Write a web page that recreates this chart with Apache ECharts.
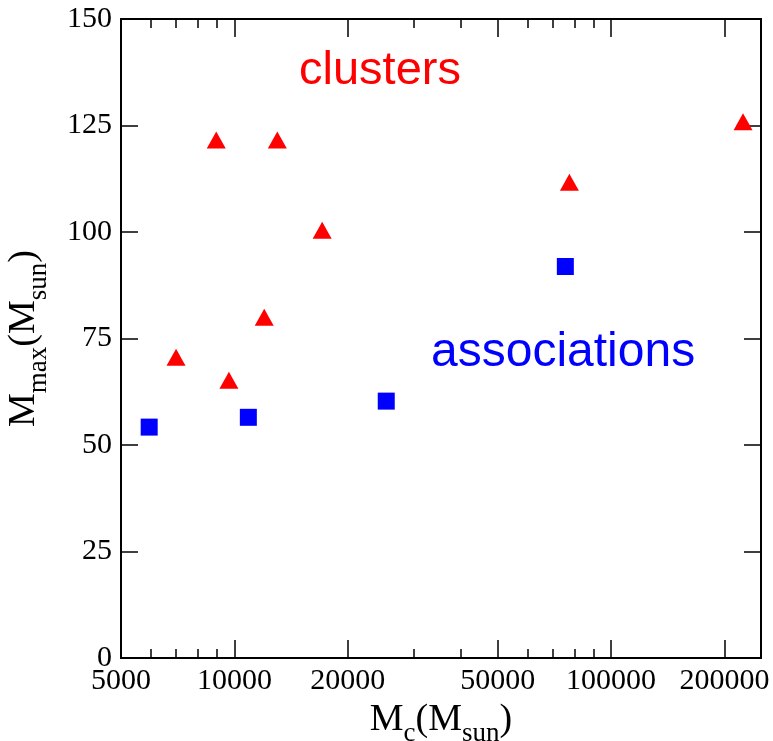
<!DOCTYPE html>
<html>
<head>
<meta charset="utf-8">
<script src="https://cdn.jsdelivr.net/npm/echarts@6/dist/echarts.min.js"></script>
<style>
  html, body { margin: 0; padding: 0; background: #fff; }
  #chart { width: 773px; height: 741px; }
</style>
</head>
<body>
<div id="chart"></div>
<script>
// Cluster mass M_c (M_sun) and most massive star M_max (M_sun)
const clusterMass = [7000, 8950, 9670, 12000, 13000, 17100, 77500, 224000];
const clusterMmax = [70.6, 121.6, 65.2, 80.0, 121.6, 100.4, 111.7, 125.9];
const assocMass = [5940, 10890, 25300, 75600];
const assocMmax = [54.2, 56.5, 60.3, 91.9];

// Axis ticks
const xMajorTicks = [5000, 10000, 20000, 50000, 100000, 200000];
const xMinorTicks = [6000, 7000, 8000, 9000, 30000, 40000, 60000, 70000, 80000, 90000];
const xRange = [5000, 250000];
const yTicks = [0, 25, 50, 75, 100, 125, 150];

// The mass axis is logarithmic: positions are log10 of the mass
const lg = v => Math.log10(v);

const serif = '"Liberation Serif", "Times New Roman", serif';
const sans = '"Liberation Sans", Arial, sans-serif';

function massLabel(v) {
  let best = xMajorTicks[0];
  for (const t of xMajorTicks) if (Math.abs(lg(t) - v) < Math.abs(lg(best) - v)) best = t;
  return String(best);
}

function xAxisDef(position, ticks, len, withLabels) {
  return {
    type: 'value',
    position: position,
    min: lg(xRange[0]),
    max: lg(xRange[1]),
    axisLine: { show: true, onZero: false, lineStyle: { color: '#000', width: 2 } },
    axisTick: {
      show: true, inside: true, length: len,
      customValues: ticks.map(lg),
      lineStyle: { color: '#000', width: 1.5 }
    },
    axisLabel: withLabels ? {
      show: true,
      customValues: ticks.map(lg),
      formatter: massLabel,
      margin: 8,
      color: '#000',
      fontFamily: serif,
      fontSize: 30
    } : { show: false },
    splitLine: { show: false }
  };
}

function yAxisDef(position, withLabels) {
  return {
    type: 'value',
    position: position,
    min: yTicks[0],
    max: yTicks[yTicks.length - 1],
    interval: 25,
    axisLine: { show: true, onZero: false, lineStyle: { color: '#000', width: 2 } },
    axisTick: { show: true, inside: true, length: 17, lineStyle: { color: '#000', width: 1.5 } },
    axisLabel: withLabels ? {
      show: true, margin: 9, color: '#000', fontFamily: serif, fontSize: 30
    } : { show: false },
    splitLine: { show: false }
  };
}

const mainStyle = { fontFamily: serif, fontSize: 38, color: '#000', verticalAlign: 'bottom', padding: [0, 0, 9, 0] };
const subStyle = { fontFamily: serif, fontSize: 27, color: '#000', verticalAlign: 'bottom' };

const xMain = xAxisDef('bottom', xMajorTicks, 18, true);
xMain.name = '{m|M}{s|c}{m|(M}{s|sun}{m|)}';
xMain.nameLocation = 'middle';
xMain.nameGap = 38;
xMain.nameTextStyle = { rich: { m: mainStyle, s: subStyle } };

const yMain = yAxisDef('left', true);
yMain.name = '{m|M}{s|max}{m|(M}{s|sun}{m|)}';
yMain.nameLocation = 'middle';
yMain.nameGap = 69;
yMain.nameRotate = 90;
yMain.nameTextStyle = { rich: { m: mainStyle, s: subStyle } };

const chart = echarts.init(document.getElementById('chart'), null, { renderer: 'canvas' });

chart.setOption({
  animation: false,
  backgroundColor: '#fff',
  grid: { left: 121, right: 12, top: 19, bottom: 83, containLabel: false, outerBoundsMode: 'none' },
  xAxis: [
    xMain,
    xAxisDef('bottom', xMinorTicks, 9, false),
    xAxisDef('top', xMajorTicks, 18, false),
    xAxisDef('top', xMinorTicks, 9, false)
  ],
  yAxis: [
    yMain,
    yAxisDef('right', false)
  ],
  series: [
    {
      name: 'clusters',
      type: 'scatter',
      xAxisIndex: 0,
      yAxisIndex: 0,
      symbol: 'triangle',
      symbolSize: [19, 17],
      itemStyle: { color: '#ff0000', opacity: 1 },
      data: clusterMass.map((m, i) => [lg(m), clusterMmax[i]])
    },
    {
      name: 'associations',
      type: 'scatter',
      xAxisIndex: 0,
      yAxisIndex: 0,
      symbol: 'rect',
      symbolSize: 17,
      itemStyle: { color: '#0000ff', opacity: 1 },
      data: assocMass.map((m, i) => [lg(m), assocMmax[i]])
    }
  ],
  graphic: [
    {
      type: 'text', x: 299, y: 71,
      style: { text: 'clusters', font: '47px ' + sans, fill: '#ff0000', verticalAlign: 'middle' }
    },
    {
      type: 'text', x: 431, y: 353,
      style: { text: 'associations', font: '48px ' + sans, fill: '#0000ff', verticalAlign: 'middle' }
    }
  ]
});
</script>
</body>
</html>
